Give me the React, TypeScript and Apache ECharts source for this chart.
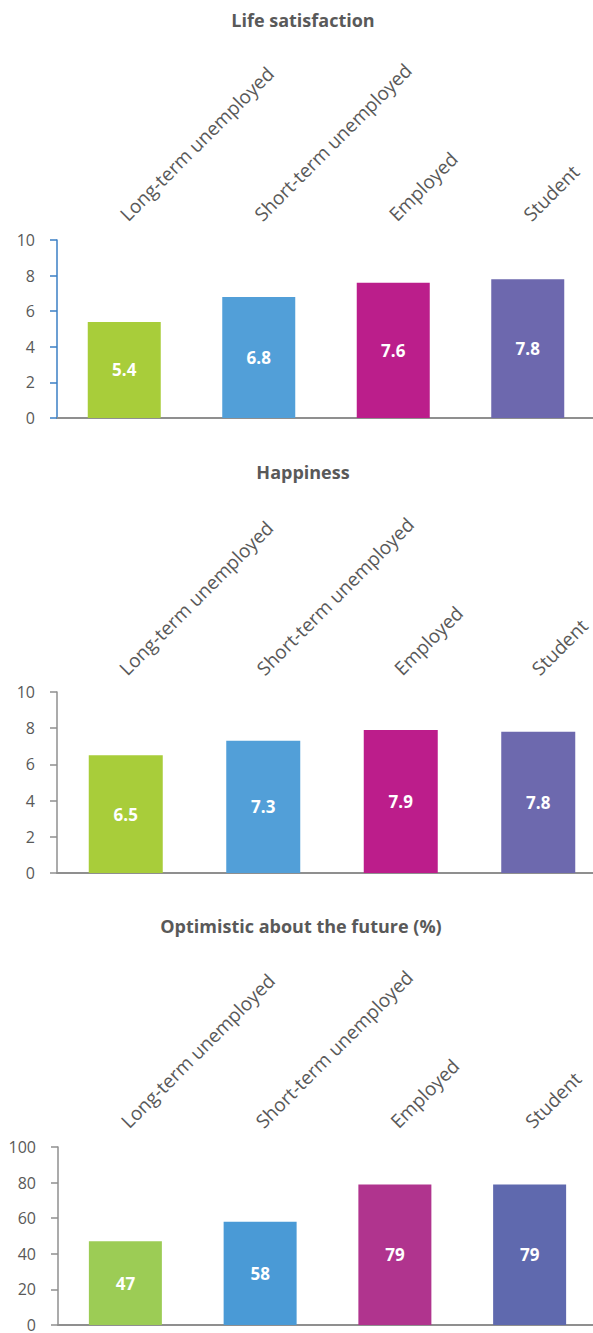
import React, { useEffect, useRef } from "react";
import * as echarts from "echarts";

const categories = ["Long-term unemployed", "Short-term unemployed", "Employed", "Student"];
const titles = ["Life satisfaction", "Happiness", "Optimistic about the future (%)"];
const lifeSatisfaction = [5.4, 6.8, 7.6, 7.8];
const happiness = [6.5, 7.3, 7.9, 7.8];
const optimistic = [47, 58, 79, 79];
const scoreAxis = { min: 0, max: 10, interval: 2 };
const percentAxis = { min: 0, max: 100, interval: 20 };
const colorsLife = ["#a8cd3a", "#529fd8", "#bb1e8b", "#6d68ae"];
const colorsHappy = ["#a8cd3a", "#529fd8", "#bc1d8b", "#6d69ae"];
const colorsOpt = ["#9ccc55", "#4a9ad6", "#b0348e", "#5f69ae"];

const FONT = "'Open Sans', 'Noto Sans', sans-serif";
const TEXT = "#595959";
const GRAY = "#8f8f8f";

export default function App() {
  const ref = useRef<HTMLDivElement>(null);
  useEffect(() => {
    document.body.style.margin = "0";
    if (!ref.current) return;
    const chart = echarts.init(ref.current, undefined, { renderer: "svg" });

    const panels = [
      { title: titles[0], values: lifeSatisfaction, colors: colorsLife, axis: scoreAxis, yColor: "#3b7fc4",
        grid: { left: 57, top: 240, width: 538, height: 178 }, titleX: 303, titleY: 10, barWidth: 73, labelPad: 8 },
      { title: titles[1], values: happiness, colors: colorsHappy, axis: scoreAxis, yColor: GRAY,
        grid: { left: 57, top: 692, width: 550, height: 181 }, titleX: 303, titleY: 462, barWidth: 74, labelPad: 5 },
      { title: titles[2], values: optimistic, colors: colorsOpt, axis: percentAxis, yColor: GRAY,
        grid: { left: 58, top: 1147, width: 539, height: 178 }, titleX: 301, titleY: 916, barWidth: 73, labelPad: 8 },
    ];

    const option: any = {
      animation: false,
      title: panels.map((p) => ({
        text: p.title,
        left: p.titleX,
        top: p.titleY,
        textAlign: "center",
        padding: 0,
        textStyle: { fontFamily: FONT, fontSize: 18, fontWeight: "bold", color: TEXT, lineHeight: 20 },
      })),
      grid: panels.map((p) => ({ ...p.grid, containLabel: false, outerBoundsMode: "none" })),
      xAxis: panels.flatMap((p, i) => [
        {
          type: "category",
          gridIndex: i,
          data: categories,
          position: "bottom",
          axisLine: { show: true, lineStyle: { color: GRAY, width: 2 } },
          axisTick: { show: false },
          axisLabel: { show: false },
        },
        {
          type: "category",
          gridIndex: i,
          data: categories,
          position: "top",
          axisLine: { show: false },
          axisTick: { show: false },
          axisLabel: {
            show: true,
            interval: 0,
            rotate: -45,
            margin: 10,
            padding: [0, 0, 0, p.labelPad],
            align: "left",
            verticalAlign: "bottom",
            overflow: "none",
            hideOverlap: false,
            fontFamily: FONT,
            fontSize: 19,
            color: TEXT,
          },
        },
      ]),
      yAxis: panels.map((p, i) => ({
        type: "value",
        gridIndex: i,
        min: p.axis.min,
        max: p.axis.max,
        interval: p.axis.interval,
        axisLine: { show: true, lineStyle: { color: p.yColor, width: 1.5 } },
        axisTick: { show: true, length: 7, lineStyle: { color: p.yColor, width: 1.5 } },
        splitLine: { show: false },
        axisLabel: { margin: 22, fontFamily: FONT, fontSize: 16, color: TEXT },
      })),
      series: panels.map((p, i) => ({
        type: "bar",
        xAxisIndex: 2 * i,
        yAxisIndex: i,
        barWidth: p.barWidth,
        data: p.values.map((v, j) => ({ value: v, itemStyle: { color: p.colors[j] } })),
        label: {
          show: true,
          position: "inside",
          color: "#ffffff",
          fontFamily: FONT,
          fontSize: 17,
          fontWeight: "bold",
        },
      })),
    };
    chart.setOption(option);
    return () => chart.dispose();
  }, []);
  return <div ref={ref} style={{ width: 593, height: 1333 }} />;
}
